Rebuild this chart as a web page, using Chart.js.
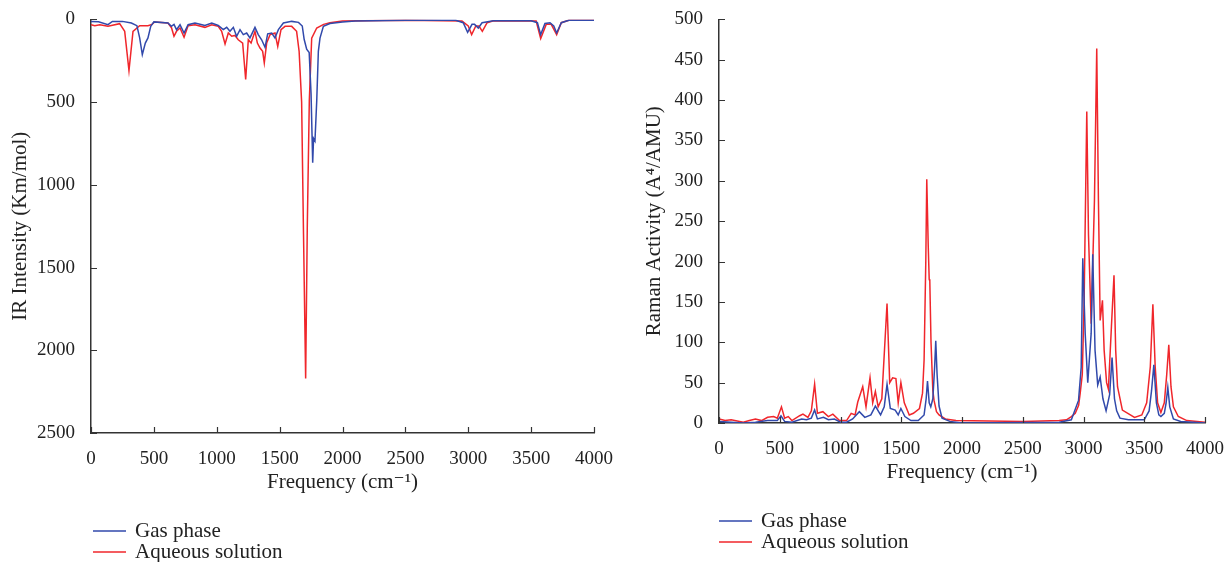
<!DOCTYPE html>
<html lang="en">
<head>
<meta charset="UTF-8">
<title>IR and Raman spectra</title>
<script src="https://cdn.jsdelivr.net/npm/chart.js"></script>
<style>
  body { margin: 0; background: #fff; font-family: "Liberation Serif", "DejaVu Serif", serif; color: #222; }
  .wrap { position: relative; width: 1231px; height: 562px; overflow: hidden; }
  canvas { position: absolute; top: 0; }
  #irChart { left: 0; }
  #ramanChart { left: 620px; }
  .legend { position: absolute; font-size: 21px; line-height: 21px; }
  .legend div { display: flex; align-items: center; white-space: nowrap; }
  .legend canvas.line { position: static; display: inline-block; width: 33px; height: 4px; margin-right: 9px; }
</style>
</head>
<body>
<div class="wrap">
  <canvas id="irChart" width="620" height="500"></canvas>
  <canvas id="ramanChart" width="611" height="490"></canvas>
  <div class="legend" id="irLegend" style="left:93px; top:520px;"></div>
  <div class="legend" id="ramanLegend" style="left:719px; top:510px;"></div>
</div>
<script>
// ---- data ----
const seriesNames = ['Gas phase', 'Aqueous solution'];
const xTicks = [0, 500, 1000, 1500, 2000, 2500, 3000, 3500, 4000];

// IR spectrum, gas phase
const irGasFreq = [0,60,135,170,250,321,365,387,408,432,453,475,500,612,639,660,680,708,740,772,827,906,960,1012,1052,1079,1105,1132,1158,1185,1211,1238,1264,1304,1330,1357,1384,1405,1437,1463,1490,1530,1596,1650,1680,1695,1715,1735,1750,1763,1770,1781,1795,1808,1821,1848,1900,2000,2100,2500,2900,2960,2995,3030,3050,3080,3110,3200,3500,3550,3576,3610,3650,3680,3703,3740,3800,4000];
const irGasInt  = [12,14,32,12,12,22,38,112,213,143,112,42,15,22,42,30,62,32,82,32,22,37,22,37,62,48,72,48,102,62,92,82,112,48,92,123,169,87,82,112,62,22,12,18,40,120,180,200,450,866,720,735,494,193,113,42,25,15,10,5,5,20,78,30,30,52,20,8,8,20,92,25,20,40,82,20,5,5];

// IR spectrum, aqueous solution
const irAqFreq = [0,30,70,135,228,268,302,334,387,453,485,506,612,640,660,680,708,740,772,827,906,960,1012,1039,1066,1092,1119,1145,1171,1206,1230,1251,1273,1304,1323,1344,1365,1378,1397,1424,1463,1485,1511,1543,1596,1635,1655,1675,1690,1707,1720,1736,1755,1795,1850,1900,2000,2500,2950,3000,3027,3060,3085,3112,3150,3200,3540,3576,3620,3660,3703,3740,3800,4000];
const irAqInt  = [32,38,32,42,26,72,309,72,38,38,30,16,22,50,102,72,52,108,38,32,48,32,42,72,149,82,102,97,123,143,363,123,143,72,143,173,193,263,143,92,82,163,62,42,42,72,193,500,1300,2170,1250,494,113,52,30,20,10,5,10,40,92,40,40,72,20,8,10,116,30,30,92,20,5,5];

// Raman spectrum, gas phase
const ramanGasFreq = [0,100,200,300,400,480,510,540,600,680,720,760,787,810,860,900,950,1000,1050,1100,1155,1200,1250,1287,1330,1360,1383,1410,1450,1475,1497,1530,1580,1640,1688,1705,1716,1730,1743,1760,1775,1784,1795,1811,1836,1900,2000,2800,2900,2959,2981,2994,3014,3035,3063,3076,3095,3117,3137,3160,3186,3215,3235,3255,3273,3300,3370,3500,3540,3560,3579,3600,3620,3637,3665,3680,3694,3710,3740,3800,4000];
const ramanGasAct  = [2,1,0,1,3,3,9,2,1,5,4,6,16,5,7,4,5,1,1,5,14,7,10,21,10,20,48,18,16,10,18,8,3,3,10,30,52,25,20,30,70,102,60,21,6,2,0,1,4,28,69,204,111,50,111,209,90,47,57,30,15,35,81,30,15,6,4,4,15,40,72,25,10,8,12,25,44,20,5,2,0];

// Raman spectrum, aqueous solution
const ramanAqFreq = [0,50,100,200,250,300,350,400,450,480,514,540,570,600,664,691,732,760,787,810,855,900,937,992,1050,1088,1120,1142,1170,1183,1210,1243,1265,1287,1310,1340,1383,1405,1429,1456,1475,1497,1525,1566,1600,1650,1675,1688,1702,1710,1722,1730,1735,1745,1760,1770,1790,1811,1863,1950,2500,2800,2860,2900,2932,2960,2973,2990,3005,3027,3041,3063,3090,3109,3123,3137,3156,3170,3190,3205,3230,3251,3265,3280,3320,3420,3480,3520,3550,3571,3590,3610,3637,3665,3685,3702,3720,3740,3780,3850,4000];
const ramanAqAct  = [5,3,4,1,3,5,3,7,8,6,20,6,8,3,9,11,7,15,48,12,14,8,11,3,3,12,10,26,39,45,20,56,25,39,20,30,148,50,56,55,25,50,25,10,12,18,37,78,200,302,220,178,176,100,40,28,14,10,5,3,2,3,4,8,12,22,37,60,150,386,234,123,275,464,275,127,152,90,50,42,120,183,90,45,16,7,10,25,70,147,70,25,13,25,60,97,45,20,8,3,1];

// ---- styling ----
const blue = '#3149ab';
const red = '#f0262b';
const axisColor = '#333';
const serif = '"Liberation Serif", "DejaVu Serif", serif';

function points(fx, fy) {
  return fx.map((f, i) => ({ x: f, y: fy[i] }));
}

// tick marks drawn on the inside of the axes
const innerTicks = {
  id: 'innerTicks',
  afterDraw(chart) {
    const ctx = chart.ctx, xs = chart.scales.x, ys = chart.scales.y;
    ctx.save();
    ctx.strokeStyle = axisColor;
    ctx.lineWidth = 1.2;
    ctx.beginPath();
    xs.ticks.forEach(t => {
      const px = Math.round(xs.getPixelForValue(t.value)) + 0.5;
      ctx.moveTo(px, xs.top);
      ctx.lineTo(px, xs.top - 6);
    });
    ys.ticks.forEach(t => {
      const py = Math.round(ys.getPixelForValue(t.value)) + 0.5;
      ctx.moveTo(ys.right, py);
      ctx.lineTo(ys.right + 6, py);
    });
    ctx.stroke();
    ctx.restore();
  }
};

function makeChart(id, cfg) {
  return new Chart(document.getElementById(id), {
    type: 'line',
    data: {
      datasets: [
        { label: seriesNames[0], data: cfg.gas, borderColor: blue, borderWidth: 1.5, pointRadius: 0, tension: 0, fill: false },
        { label: seriesNames[1], data: cfg.aq, borderColor: red, borderWidth: 1.5, pointRadius: 0, tension: 0, fill: false }
      ]
    },
    options: {
      responsive: false,
      animation: false,
      events: [],
      layout: { padding: { top: 18, right: cfg.padRight, left: 0, bottom: 0 } },
      plugins: { legend: { display: false }, tooltip: { enabled: false } },
      scales: {
        x: {
          type: 'linear', min: 0, max: 4000,
          afterBuildTicks: s => { s.ticks = xTicks.map(v => ({ value: v })); },
          afterFit: s => { s.height = cfg.xHeight; },
          grid: { display: false },
          border: { display: true, color: axisColor, width: 1.5 },
          ticks: { color: '#222', padding: 7, maxRotation: 0, callback: v => String(v), font: { family: serif, size: 19 } },
          title: { display: true, text: 'Frequency (cm\u207B\u00B9)', color: '#222', padding: { top: 0, bottom: 5 }, font: { family: serif, size: 21 } }
        },
        y: {
          type: 'linear', min: 0, max: cfg.yMax, reverse: cfg.reverse,
          ticks: { stepSize: cfg.yStep, color: '#222', padding: 8, callback: v => String(v), font: { family: serif, size: 19 } },
          afterFit: s => { s.width = cfg.yWidth; },
          grid: { display: false },
          border: { display: true, color: axisColor, width: 1.5 },
          title: { display: true, text: cfg.yTitle, color: '#222', padding: { top: cfg.yTitlePad, bottom: 0 }, font: { family: serif, size: 21 } }
        }
      }
    },
    plugins: [innerTicks]
  });
}

makeChart('irChart', {
  gas: points(irGasFreq, irGasInt),
  aq: points(irAqFreq, irAqInt),
  yMax: 2500, yStep: 500, reverse: true,
  yTitle: 'IR Intensity (Km/mol)', yTitlePad: 8,
  yWidth: 91, xHeight: 67, padRight: 26
});

makeChart('ramanChart', {
  gas: points(ramanGasFreq, ramanGasAct),
  aq: points(ramanAqFreq, ramanAqAct),
  yMax: 500, yStep: 50, reverse: false,
  yTitle: 'Raman Activity (A\u2074/AMU)', yTitlePad: 22,
  yWidth: 99, xHeight: 67, padRight: 24
});

// legends under each chart: a short stroked line + the series name
function buildLegend(id) {
  const el = document.getElementById(id);
  [blue, red].forEach((c, i) => {
    const row = document.createElement('div');
    const line = document.createElement('canvas');
    line.className = 'line';
    line.width = 33;
    line.height = 4;
    const g = line.getContext('2d');
    g.strokeStyle = c;
    g.lineWidth = 1.5;
    g.beginPath();
    g.moveTo(0, 2);
    g.lineTo(33, 2);
    g.stroke();
    row.appendChild(line);
    row.appendChild(document.createTextNode(seriesNames[i]));
    el.appendChild(row);
  });
}
buildLegend('irLegend');
buildLegend('ramanLegend');
</script>
</body>
</html>
